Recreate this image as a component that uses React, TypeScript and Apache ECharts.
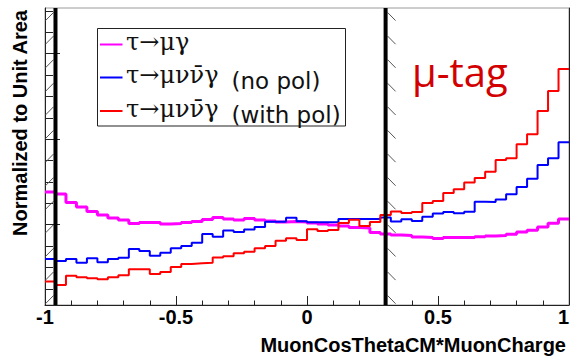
import React, { useEffect, useRef } from "react";
import * as echarts from "echarts";

// ---- axis ranges / ticks ----
const X_MIN = -1;
const X_MAX = 1;
const BIN_WIDTH = 0.04;
const Y_MIN = 0.0012;
const Y_MAX = 0.0707;
const Y_MAJOR_TICKS = [0.02, 0.04, 0.06];
const Y_MINOR_TICKS = [0.005, 0.01, 0.015, 0.025, 0.03, 0.035, 0.045, 0.05, 0.055, 0.065, 0.07];

// cut positions and the side of their hatching (-1 left, +1 right)
const CUT_X = [-0.96, 0.3];
const CUT_SIDE = [-1, 1];
// hatch geometry in data units
const HATCH_GAP_X = 0.0076;
const HATCH_DX = 0.0305;
const HATCH_DY = 0.0019;
const HATCH_STEP = 0.00552;
const HATCH_COUNT = 13;

// ---- series (50 bins from -1 to 1) ----
const MU_GAMMA = [
  0.02765, 0.02718, 0.02519, 0.02414, 0.02309, 0.02227, 0.02157, 0.0211, 0.02028, 0.02051,
  0.02051, 0.02016, 0.02028, 0.02051, 0.02075, 0.02122, 0.02168, 0.02133, 0.0211, 0.02145,
  0.0211, 0.02087, 0.02063, 0.02075, 0.02063, 0.0204, 0.02016, 0.01993, 0.0197, 0.01934,
  0.01923, 0.01818, 0.01782, 0.01759, 0.01747, 0.01712, 0.01701, 0.01677, 0.01701, 0.01701,
  0.01701, 0.01719, 0.01736, 0.01747, 0.01775, 0.01829, 0.01869, 0.01946, 0.02033, 0.02133,
];
const MU_NU_NU_GAMMA_NOPOL = [
  0.01198, 0.01151, 0.01198, 0.01111, 0.01214, 0.0112, 0.01198, 0.01228, 0.01432, 0.01385,
  0.01275, 0.01345, 0.01448, 0.01502, 0.01579, 0.01782, 0.01719, 0.01864, 0.01829, 0.01888,
  0.01946, 0.0207, 0.0207, 0.02164, 0.0208, 0.02056, 0.02056, 0.02063, 0.02133, 0.02133,
  0.02133, 0.02133, 0.02168, 0.02075, 0.02126, 0.02087, 0.02187, 0.02262, 0.02297, 0.02267,
  0.02304, 0.02538, 0.02531, 0.02589, 0.02713, 0.02882, 0.03076, 0.03396, 0.03553, 0.03927,
];
const MU_NU_NU_GAMMA_POL = [
  0.00667, 0.00589, 0.00807, 0.0077, 0.00746, 0.00723, 0.0077, 0.00816, 0.00957, 0.00957,
  0.00847, 0.00894, 0.01011, 0.01081, 0.01097, 0.01111, 0.01233, 0.01261, 0.01331, 0.01368,
  0.01448, 0.01502, 0.01626, 0.01682, 0.01642, 0.01892, 0.01853, 0.01876, 0.0204, 0.02117,
  0.0197, 0.02063, 0.02227, 0.02309, 0.02274, 0.02297, 0.02508, 0.02554, 0.02742, 0.02828,
  0.02987, 0.03092, 0.0324, 0.03513, 0.03553, 0.03881, 0.04115, 0.0466, 0.05127, 0.05642,
];

const GREEK_LABELS = ["τ→μγ", "τ→μνν̄γ", "τ→μνν̄γ"];
const SUFFIX_LABELS = ["", "(no pol)", "(with pol)"];
const SERIES_NAMES = ["τ→μγ", "τ→μνν̄γ (no pol)", "τ→μνν̄γ (with pol)"];
const COLORS = ["#ff00ff", "#0000ff", "#ff0000"];

function toSteps(vals: number[]): number[][] {
  const pts = vals.map((v, i) => [X_MIN + i * BIN_WIDTH, v]);
  pts.push([X_MAX, vals[vals.length - 1]]);
  return pts;
}

function hatchSegments() {
  const segs: any[] = [];
  CUT_X.forEach((x, i) => {
    const side = CUT_SIDE[i];
    for (let k = 0; k < HATCH_COUNT; k++) {
      const y = Y_MAX - 0.00105 - HATCH_STEP * k;
      if (y - HATCH_DY < Y_MIN) break;
      segs.push({
        coords: [
          [x + side * HATCH_GAP_X, y],
          [x + side * (HATCH_GAP_X + HATCH_DX), y - HATCH_DY],
        ],
      });
    }
  });
  return segs;
}

const AXIS_COLOR = "#222";

export default function App() {
  const ref = useRef<HTMLDivElement>(null);

  useEffect(() => {
    if (!ref.current) return;
    const chart = echarts.init(ref.current, undefined, { renderer: "svg" });

    const histSeries = [MU_GAMMA, MU_NU_NU_GAMMA_NOPOL, MU_NU_NU_GAMMA_POL].map((vals, i) => ({
      type: "line",
      name: SERIES_NAMES[i],
      step: "end",
      data: toSteps(vals),
      showSymbol: false,
      symbol: "none",
      xAxisIndex: 0,
      yAxisIndex: 0,
      lineStyle: { color: COLORS[i], width: i === 0 ? 3 : 2 },
      itemStyle: { color: COLORS[i] },
      z: 3 + i,
    }));

    // thick vertical cut lines
    const cutSeries = {
      type: "custom",
      name: "cuts",
      xAxisIndex: 0,
      yAxisIndex: 0,
      clip: false,
      z: 10,
      data: CUT_X.map((x) => [x, (Y_MIN + Y_MAX) / 2]),
      renderItem: (_params: any, api: any) => {
        const x = api.value(0);
        const top = api.coord([x, Y_MAX]);
        const bot = api.coord([x, Y_MIN]);
        const y0 = Math.min(top[1], bot[1]);
        const y1 = Math.max(top[1], bot[1]);
        return {
          type: "rect",
          shape: { x: top[0] - 2, y: y0, width: 4, height: y1 - y0 },
          style: { fill: "#000" },
        };
      },
    };

    // hatching on the excluded side of each cut
    const hatchSeries = {
      type: "lines",
      name: "hatch",
      coordinateSystem: "cartesian2d",
      xAxisIndex: 0,
      yAxisIndex: 0,
      z: 9,
      silent: true,
      polyline: false,
      lineStyle: { color: "#555", width: 1, opacity: 1, curveness: 0 },
      data: hatchSegments(),
    };

    const greekFont = "'DejaVu Serif'";
    const sansFont = "'DejaVu Sans'";
    const rowY = [44.5, 77.5, 111];

    const legendChildren: any[] = [
      {
        type: "rect",
        shape: { x: 97.5, y: 28.5, width: 248, height: 97.5 },
        style: { fill: "#fff", stroke: "#222", lineWidth: 1 },
      },
    ];
    rowY.forEach((y, i) => {
      legendChildren.push({
        type: "line",
        shape: { x1: 100, y1: y, x2: 122.5, y2: y },
        style: { stroke: COLORS[i], lineWidth: 2 },
      });
      legendChildren.push({
        type: "text",
        x: 126,
        y: y - 2.5,
        style: { text: GREEK_LABELS[i], fill: "#111", font: `24px ${greekFont}`, textAlign: "left", textVerticalAlign: "middle" },
      });
      if (SUFFIX_LABELS[i]) {
        legendChildren.push({
          type: "text",
          x: 231.5,
          y: y + 3.8,
          style: { text: SUFFIX_LABELS[i], fill: "#111", font: `23px ${sansFont}`, textAlign: "left", textVerticalAlign: "middle" },
        });
      }
    });

    chart.setOption({
      animation: false,
      backgroundColor: "#fff",
      grid: {
        left: 45,
        right: 2,
        top: 8,
        bottom: 53,
        containLabel: false,
        outerBoundsMode: "none",
        show: true,
        borderColor: "#9a9a9a",
        borderWidth: 1,
        backgroundColor: "transparent",
      },
      xAxis: {
        type: "value",
        min: X_MIN,
        max: X_MAX,
        interval: 0.5,
        axisLine: { show: true, onZero: false, lineStyle: { color: AXIS_COLOR, width: 1 } },
        axisTick: { show: true, inside: true, length: 9, lineStyle: { color: AXIS_COLOR } },
        minorTick: { show: true, splitNumber: 5, length: 4.5, lineStyle: { color: AXIS_COLOR } },
        splitLine: { show: false },
        minorSplitLine: { show: false },
        axisLabel: {
          show: true,
          showMinLabel: true,
          showMaxLabel: true,
          hideOverlap: false,
          alignMaxLabel: "right",
          margin: 2,
          color: "#000",
          fontFamily: "Liberation Sans",
          fontWeight: "bold",
          fontSize: 20,
          formatter: (v: number) => String(v),
        },
      },
      yAxis: [
        {
          type: "value",
          min: Y_MIN,
          max: Y_MAX,
          position: "left",
          axisLine: { show: true, onZero: false, lineStyle: { color: AXIS_COLOR } },
          axisTick: { show: true, inside: true, length: 15, customValues: Y_MAJOR_TICKS, lineStyle: { color: AXIS_COLOR } },
          axisLabel: { show: false },
          splitLine: { show: false },
        },
        {
          type: "value",
          min: Y_MIN,
          max: Y_MAX,
          position: "left",
          axisLine: { show: false, onZero: false },
          axisTick: { show: true, inside: true, length: 8, customValues: Y_MINOR_TICKS, lineStyle: { color: AXIS_COLOR } },
          axisLabel: { show: false },
          splitLine: { show: false },
        },
        {
          type: "value",
          min: Y_MIN,
          max: Y_MAX,
          position: "right",
          axisLine: { show: true, onZero: false, lineStyle: { color: AXIS_COLOR } },
          axisTick: { show: false },
          axisLabel: { show: false },
          splitLine: { show: false },
        },
      ],
      series: [...histSeries, hatchSeries, cutSeries],
      graphic: [
        {
          type: "text",
          x: 19.5,
          y: 10,
          rotation: Math.PI / 2,
          z: 20,
          style: {
            text: "Normalized to Unit Area",
            fill: "#000",
            font: "bold 20px 'Liberation Sans'",
            textAlign: "right",
            textVerticalAlign: "middle",
          },
        },
        {
          type: "text",
          x: 566,
          y: 345,
          z: 20,
          style: {
            text: "MuonCosThetaCM*MuonCharge",
            fill: "#000",
            font: "bold 20px 'Liberation Sans'",
            textAlign: "right",
            textVerticalAlign: "middle",
          },
        },
        {
          type: "text",
          x: 412,
          y: 71,
          z: 20,
          style: {
            text: "μ-tag",
            fill: "#d20000",
            font: "40px 'Open Sans'",
            textAlign: "left",
            textVerticalAlign: "middle",
          },
        },
        { type: "group", z: 30, children: legendChildren },
      ],
    });

    return () => chart.dispose();
  }, []);

  return (
    <div
      ref={ref}
      style={{ position: "fixed", left: 0, top: 0, width: 571, height: 358, background: "#fff" }}
    />
  );
}
